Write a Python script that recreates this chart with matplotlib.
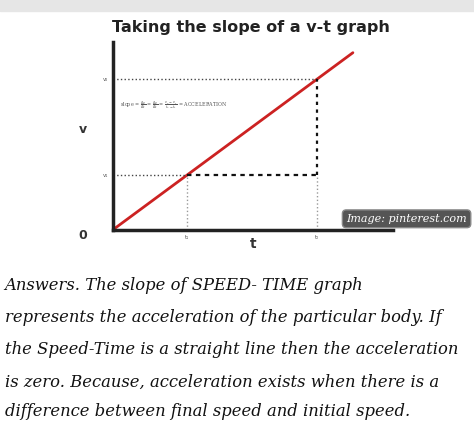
import matplotlib
matplotlib.use('Agg')
import matplotlib.pyplot as plt

# v-t graph values (arbitrary units)
t_line = [0, 8.57]
v_line = [0, 9.43]
t1, t2 = 2.64, 7.29
v1, v2 = 2.9, 8.02
tick_t = ['t₁', 't₂']
tick_v = ['v₁', 'v₂']

answer_lines = [
    "Answers. The slope of SPEED- TIME graph",
    "represents the acceleration of the particular body. If",
    "the Speed-Time is a straight line then the acceleration",
    "is zero. Because, acceleration exists when there is a",
    "difference between final speed and initial speed.",
]

fig = plt.figure(figsize=(4.74, 4.42), dpi=100)
fig.patch.set_facecolor('white')
fig.add_artist(plt.Rectangle((0, 0.975), 1, 0.025, transform=fig.transFigure,
                             color='#e6e6e6', zorder=0))

ax = fig.add_axes([0.238, 0.48, 0.591, 0.425])
ax.set_xlim(0, 10)
ax.set_ylim(0, 10)
for s in ['top', 'right']:
    ax.spines[s].set_visible(False)
for s in ['left', 'bottom']:
    ax.spines[s].set_linewidth(2.5)
    ax.spines[s].set_color('#222222')

ax.plot(t_line, v_line, color='#cc2222', lw=2, solid_capstyle='round')
# guide lines
ax.plot([0, t2], [v2, v2], ls=':', color='#444444', lw=1)
ax.plot([0, t1], [v1, v1], ls=':', color='#444444', lw=1)
ax.plot([t1, t1], [0, v1], ls=':', color='#999999', lw=1)
ax.plot([t2, t2], [0, v1], ls=':', color='#999999', lw=1)
ax.plot([t1, t2], [v1, v1], ls=(0, (2, 2)), color='#111111', lw=1.6)
ax.plot([t2, t2], [v1, v2], ls=(0, (1.5, 2)), color='#111111', lw=1.6)

ax.set_xticks([t1, t2])
ax.set_xticklabels(tick_t, fontsize=4, color='#555555')
ax.set_yticks([v1, v2])
ax.set_yticklabels(tick_v, fontsize=4, color='#555555')
ax.tick_params(length=0)
ax.set_xlabel('t', fontsize=10, fontweight='bold', labelpad=-2, color='#333333')
ax.set_ylabel('v', fontsize=9, fontweight='bold', rotation=0, labelpad=14,
              color='#333333')
ax.text(-0.9, -0.3, '0', fontsize=9, fontweight='bold', ha='right', va='center',
        color='#333333')
ax.text(0.25, 6.6, r'slope = $\frac{\Delta v}{\Delta t}$ = $\frac{\Delta v}{\Delta t}$ = '
        r'$\frac{v_2-v_1}{t_2-t_1}$ = ACCELERATION',
        fontsize=3.5, color='#555555', family='serif', va='center')

fig.text(0.53, 0.955, 'Taking the slope of a v-t graph', fontsize=11.5,
         fontweight='bold', ha='center', va='top', color='#222222',
         family='DejaVu Sans Condensed')

fig.text(0.985, 0.505, 'Image: pinterest.com', fontsize=8, style='italic',
         ha='right', va='center', color='white', family='serif',
         bbox=dict(boxstyle='round,pad=0.35', fc='#555555', ec='#888888'))

ys = [285, 318, 350, 382, 412]
for line, y in zip(answer_lines, ys):
    fig.text(0.01, 1 - y / 442, line, fontsize=11.8, style='italic',
             family='DejaVu Serif', va='center', ha='left', color='#111111')

fig.savefig('out.png', dpi=100)
